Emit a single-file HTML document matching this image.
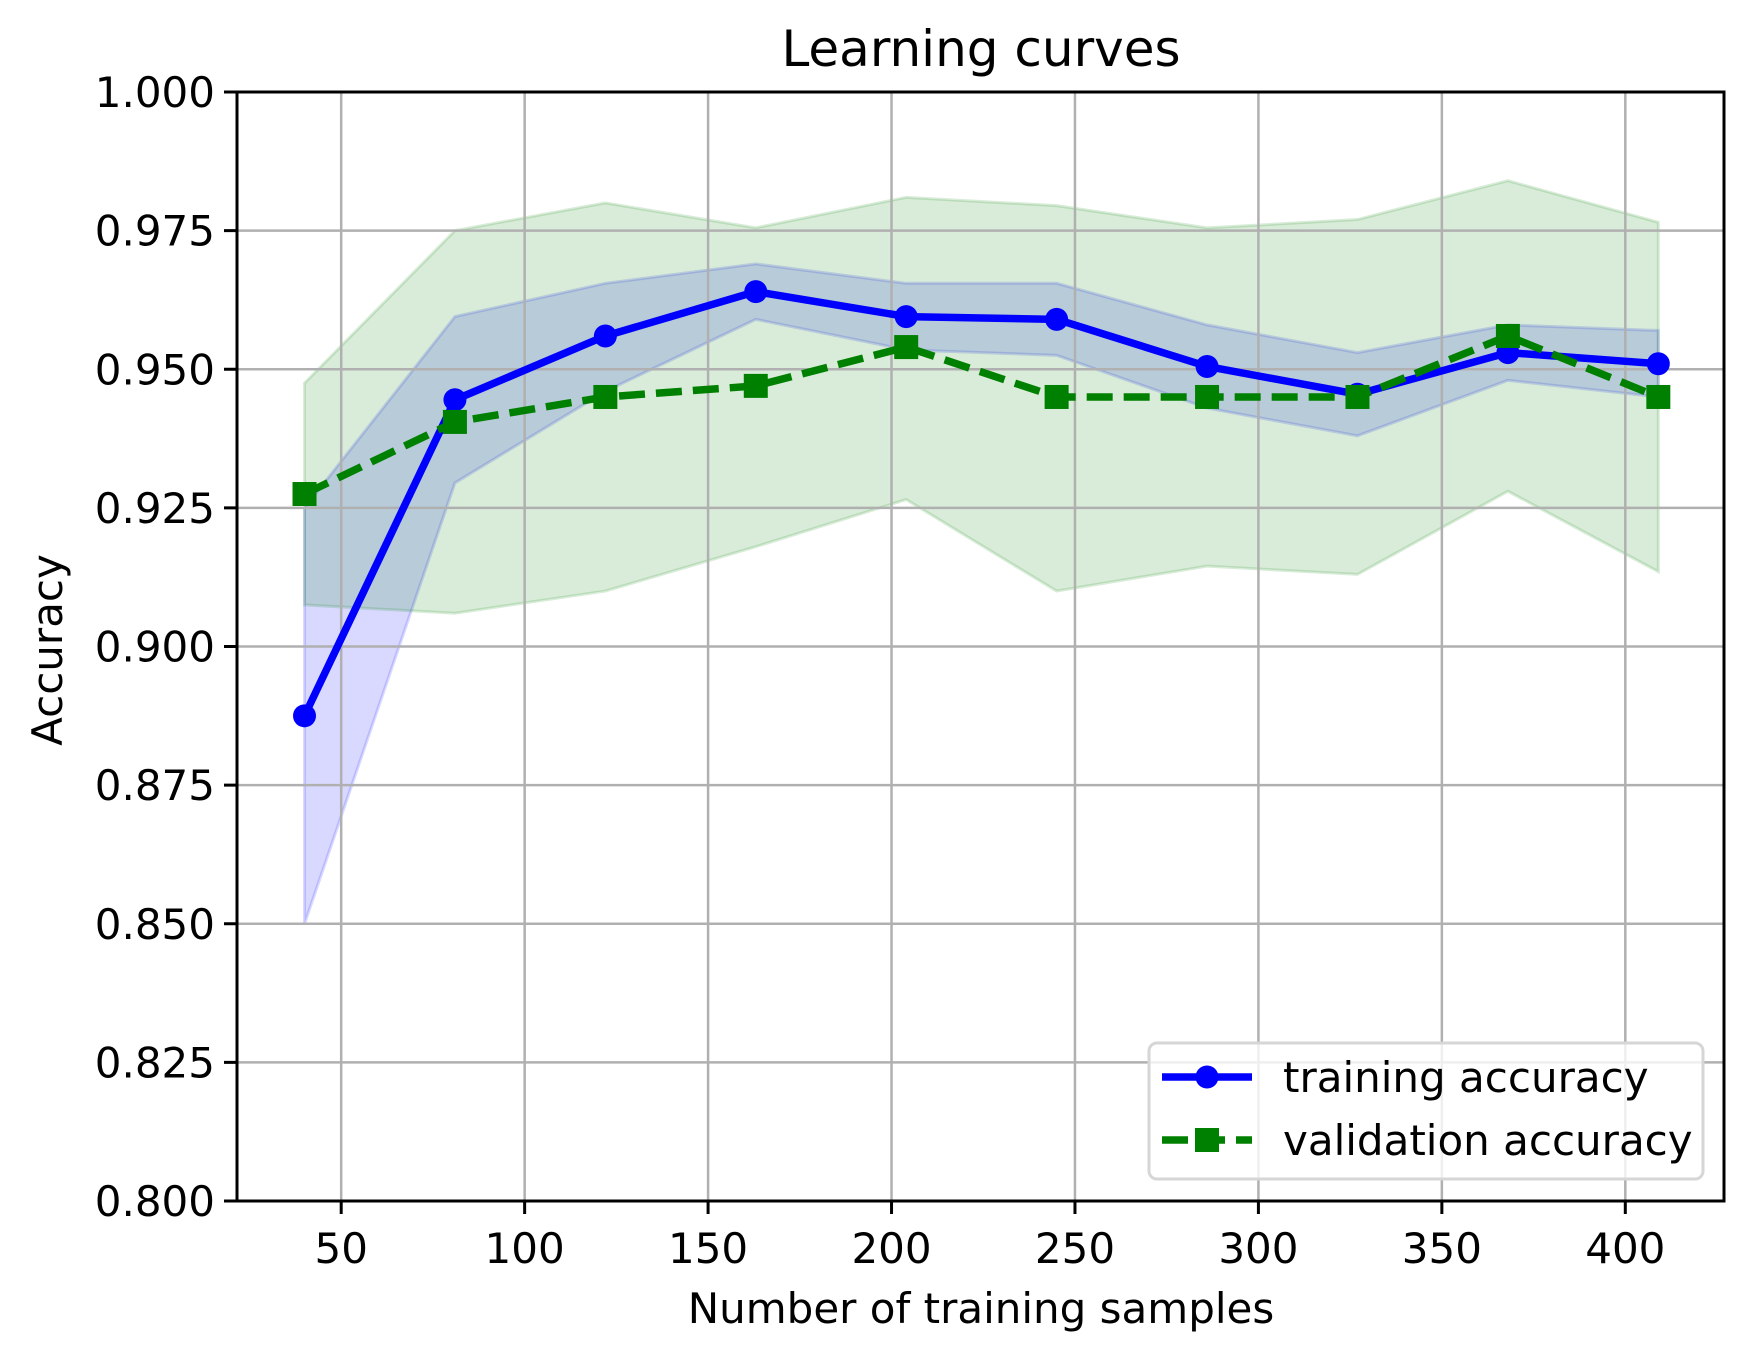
<!DOCTYPE html>
<html><head><meta charset="utf-8"><style>
html,body{margin:0;padding:0;background:#fff}
svg{display:block;font-family:"DejaVu Sans","Liberation Sans",sans-serif}
</style></head><body>
<svg id="chart" width="1758" height="1361" viewBox="0 0 1758 1361">
<rect width="1758" height="1361" fill="#fff"/>
<g id="bands"></g><g id="grid"></g><g id="series"></g><g id="axes"></g>
<text x="981" y="66" font-size="50" text-anchor="middle">Learning curves</text>
<text x="981" y="1323" font-size="42" text-anchor="middle">Number of training samples</text>
<text transform="translate(62,650) rotate(-90)" font-size="42" text-anchor="middle">Accuracy</text>
<g>
<rect x="1149" y="1043" width="554" height="136" rx="8" fill="#fff" fill-opacity="0.8" stroke="#d6d6d6" stroke-width="3"/>
<g>
<line x1="1162" y1="1077" x2="1252" y2="1077" stroke="#0000ff" stroke-width="7.5"/>
<circle cx="1207" cy="1077" r="11.5" fill="#0000ff"/>
<text x="1283" y="1092" font-size="42">training accuracy</text></g>
<g>
<line x1="1162" y1="1140" x2="1252" y2="1140" stroke="#008000" stroke-width="7.5" stroke-dasharray="26,11"/>
<rect x="1195" y="1128" width="24" height="24" fill="#008000"/>
<text x="1283" y="1155" font-size="42">validation accuracy</text></g>
</g>
</svg>
<script>
const sizes=[40,81,122,163,204,245,286,327,368,409];
const trainMean=[0.8875,0.9445,0.956,0.964,0.9595,0.959,0.9505,0.9455,0.953,0.951];
const trainUpper=[0.925,0.9595,0.9655,0.969,0.9655,0.9655,0.958,0.953,0.958,0.957];
const trainLower=[0.850,0.9295,0.946,0.959,0.9535,0.9525,0.943,0.938,0.948,0.945];
const valMean=[0.9275,0.9405,0.945,0.947,0.954,0.945,0.945,0.945,0.956,0.945];
const valUpper=[0.9475,0.975,0.980,0.9755,0.981,0.9795,0.9755,0.977,0.984,0.9765];
const valLower=[0.9075,0.906,0.910,0.918,0.9265,0.910,0.9145,0.913,0.928,0.9135];
const xTicks=[50,100,150,200,250,300,350,400];
const yTicks=[0.800,0.825,0.850,0.875,0.900,0.925,0.950,0.975,1.000];

const L=237,R=1724,T=92,B=1201;
const XMIN=21.6,XMAX=426.9,YMIN=0.8,YMAX=1.0;
const xs=v=>L+(v-XMIN)/(XMAX-XMIN)*(R-L);
const ys=v=>B-(v-YMIN)/(YMAX-YMIN)*(B-T);
const NS="http://www.w3.org/2000/svg";
function mk(tag,attrs,parent){const e=document.createElementNS(NS,tag);for(const k in attrs)e.setAttribute(k,attrs[k]);parent.appendChild(e);return e;}
const gB=document.getElementById('bands'),gG=document.getElementById('grid'),gS=document.getElementById('series'),gA=document.getElementById('axes');

function band(up,lo,fill,stroke,name){
  let p=sizes.map((s,i)=>xs(s)+','+ys(up[i]));
  for(let i=sizes.length-1;i>=0;i--)p.push(xs(sizes[i])+','+ys(lo[i]));
  const e=mk('polygon',{points:p.join(' '),fill:fill,'fill-opacity':0.15,stroke:stroke,'stroke-opacity':0.15,'stroke-width':3},gB);
  
  
}
band(trainUpper,trainLower,'#0000ff','#0000ff','training-std-band');
band(valUpper,valLower,'#008000','#008000','validation-std-band');

xTicks.forEach(t=>{
  const x=xs(t);
  const g=mk('line',{x1:x,y1:T,x2:x,y2:B,stroke:'#b0b0b0','stroke-width':2.5},gG);
  
  
  mk('line',{x1:x,y1:B,x2:x,y2:B+13,stroke:'#000','stroke-width':3},gA);
  const tx=mk('text',{x:x,y:1263,'font-size':42,'text-anchor':'middle'},gA);
  tx.textContent=t;
  
  
});
yTicks.forEach(t=>{
  const y=ys(t);
  const g=mk('line',{x1:L,y1:y,x2:R,y2:y,stroke:'#b0b0b0','stroke-width':2.5},gG);
  
  
  mk('line',{x1:L-13,y1:y,x2:L,y2:y,stroke:'#000','stroke-width':3},gA);
  const tx=mk('text',{x:L-22,y:y+15,'font-size':42,'text-anchor':'end'},gA);
  tx.textContent=t.toFixed(3);
  
  
});
const fr=mk('rect',{x:L,y:T,width:R-L,height:B-T,fill:'none',stroke:'#000','stroke-width':3},gA);



const tl=mk('polyline',{points:sizes.map((s,i)=>xs(s)+','+ys(trainMean[i])).join(' '),fill:'none',stroke:'#0000ff','stroke-width':7.5,'stroke-linejoin':'round'},gS);


sizes.forEach((s,i)=>{
  const c=mk('circle',{cx:xs(s),cy:ys(trainMean[i]),r:11.5,fill:'#0000ff'},gS);
  
  
});
const vl=mk('polyline',{points:sizes.map((s,i)=>xs(s)+','+ys(valMean[i])).join(' '),fill:'none',stroke:'#008000','stroke-width':7.5,'stroke-dasharray':'26,11'},gS);


sizes.forEach((s,i)=>{
  const r=mk('rect',{x:xs(s)-12,y:ys(valMean[i])-12,width:24,height:24,fill:'#008000'},gS);
  
  
});
</script>
</body></html>
